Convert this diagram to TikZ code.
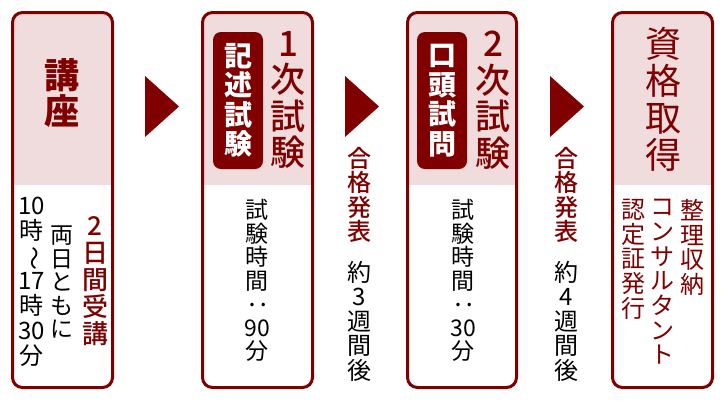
\documentclass[tikz,border=0pt]{standalone}
\usepackage{fontspec}
\setmainfont{Noto Sans CJK JP}
\newfontfamily\medfont{Noto Sans CJK JP Medium}
\usepackage{graphicx}
\usetikzlibrary{positioning}
\definecolor{darkred}{HTML}{800000}
\definecolor{headpink}{HTML}{F0DCDD}
\newcommand{\tateR}[1]{\rotatebox[origin=c]{-90}{#1}}
\begin{document}
\begin{tikzpicture}[x=1pt, y=-1pt,
    stepbox/.style={draw=darkred, line width=3pt, rounded corners=10pt, fill=white,
        minimum height=375pt, inner sep=0pt,
        path picture={\fill[headpink, sharp corners] (path picture bounding box.north west)
            rectangle ([yshift=-172pt]path picture bounding box.north east);}},
    badge/.style={fill=darkred, rounded corners=8pt, minimum width=50pt, minimum height=137pt, inner sep=0pt},
    tate/.style={align=center, inner sep=0pt},
    headtext/.style={tate, text=darkred, font=\medfont\fontsize{35}{36.5}\selectfont},
    badgetext/.style={tate, text=white, font=\bfseries\fontsize{28}{29.5}\selectfont},
    bodytext/.style={tate, text=black, font=\fontsize{23}{23.5}\selectfont},
    notetext/.style={tate, font=\fontsize{24}{24.5}\selectfont},
    redtext/.style={tate, text=darkred, font=\medfont\fontsize{24}{24.5}\selectfont}]
    \useasboundingbox (0,0) rectangle (725,400);

    % boxes
    \node[stepbox, minimum width=100pt] (kouza) at (62.5,200) {};
    \node[stepbox, minimum width=110pt] (ichiji) at (257.5,200) {};
    \node[stepbox, minimum width=109pt] (niji) at (462,200) {};
    \node[stepbox, minimum width=100pt] (shikaku) at (662.5,200) {};

    % arrows
    \foreach \x in {145,345,550}
        \fill[darkred] (\x,76) -- ++(34,30.5) -- ++(-34,30.5) -- cycle;

    % headers
    \node[headtext, font=\bfseries\fontsize{35}{36.5}\selectfont] (kouzaT) at (62,93) {講\\座};
    \node[badge] (kijutsu) at (238,100.5) {};
    \node[badgetext] (kijutsuT) at (kijutsu) {記\\述\\試\\験};
    \node[headtext] (ichijiT) at (288,100) {1\\次\\試\\験};
    \node[badge] (koutou) at (442,100.5) {};
    \node[badgetext] (koutouT) at (koutou) {口\\頭\\試\\問};
    \node[headtext] (nijiT) at (493,100) {2\\次\\試\\験};
    \node[headtext, font=\fontsize{36}{37}\selectfont] (shikakuT) at (663,99) {資\\格\\取\\得};

    % course
    \node[redtext, font=\medfont\fontsize{26}{27}\selectfont, anchor=north] (nikkan) at (95,216) {2\\日\\間\\受\\講};
    \node[bodytext, anchor=north] (ryoujitsu) at (62,226) {両\\日\\と\\も\\に};
    \node[tate, font=\fontsize{24}{24.9}\selectfont, anchor=north] (jikan) at (32,197)
        {10\\時\\\tateR{～}\\17\\時\\30\\分};

    % exam times
    \node[bodytext, anchor=north] (ichijiJ) at (257,199) {試\\験\\時\\間\\\tateR{：}\\90\\分};
    \node[bodytext, anchor=north] (nijiJ) at (463,199) {試\\験\\時\\間\\\tateR{：}\\30\\分};

    % results
    \node[redtext, anchor=north] (happyo1) at (359,147) {合\\格\\発\\表};
    \node[notetext, anchor=north] (kikan1) at (359,261) {約\\3\\週\\間\\後};
    \node[redtext, anchor=north] (happyo2) at (566,147) {合\\格\\発\\表};
    \node[notetext, anchor=north] (kikan2) at (566,261) {約\\4\\週\\間\\後};

    % licence
    \node[notetext, text=darkred, font=\fontsize{24}{24.7}\selectfont, anchor=north] (seiri) at (692,199) {整\\理\\収\\納};
    \node[notetext, text=darkred, font=\fontsize{24}{24.7}\selectfont, anchor=north] (consul) at (662,199) {コ\\ン\\サ\\ル\\タ\\ン\\ト};
    \node[notetext, text=darkred, font=\fontsize{24}{24.7}\selectfont, anchor=north] (nintei) at (633,199) {認\\定\\証\\発\\行};
\end{tikzpicture}
\end{document}
